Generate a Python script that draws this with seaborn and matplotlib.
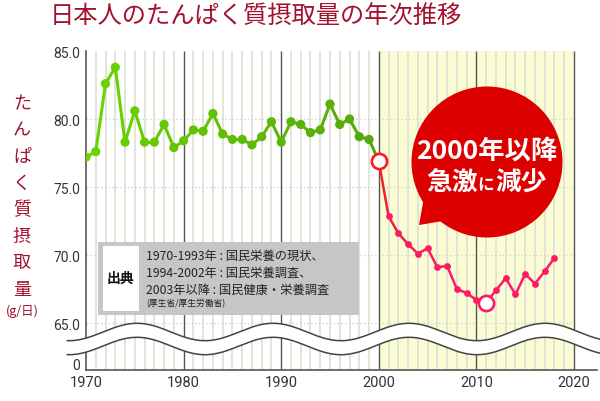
import numpy as np
import pandas as pd
import seaborn as sns
import matplotlib
import matplotlib.pyplot as plt
from matplotlib.collections import LineCollection
from matplotlib.colors import LinearSegmentedColormap
from matplotlib.patches import Ellipse, Polygon, Rectangle
from matplotlib.lines import Line2D

# たんぱく質摂取量 (g/日), 図から読み取り
years = list(range(1970, 2019))
protein = [77.2, 77.6, 82.6, 83.8, 78.3, 80.6, 78.3, 78.3, 79.6, 77.9,
           78.4, 79.2, 79.1, 80.4, 78.9, 78.5, 78.5, 78.1, 78.7, 79.8,
           78.3, 79.8, 79.6, 79.0, 79.2, 81.1, 79.6, 80.0, 78.7, 78.5,
           76.9, 72.85, 71.6, 70.8, 70.1, 70.5, 69.1, 69.2, 67.5, 67.2,
           66.7, 66.5, 67.4, 68.3, 67.1, 68.6, 67.9, 68.8, 69.8]
split_year = 2000
low_year = 2011
xtick_years = [1970, 1980, 1990, 2000, 2010, 2020]
ytick_vals = [62, 65, 70, 75, 80, 85]
ytick_labels = ['0', '65.0', '70.0', '75.0', '80.0', '85.0']

title = '日本人のたんぱく質摂取量の年次推移'
ylabel_chars = list('たんぱく質摂取量')
source_lines = ['1970-1993年 : 国民栄養の現状、',
                '1994-2002年 : 国民栄養調査、',
                '2003年以降 : 国民健康・栄養調査']

df = pd.DataFrame({'year': years, 'protein': protein})
df_g = df[df.year <= split_year]
df_r = df[df.year >= split_year]

sns.set_theme(style='white')
plt.rcParams['font.family'] = ['Noto Sans CJK JP', 'DejaVu Sans']
num_font = ['Liberation Sans Narrow', 'Roboto', 'DejaVu Sans']

W, H = 600, 402
fig = plt.figure(figsize=(W / 100, H / 100), dpi=100)
ax = fig.add_axes([86 / W, (H - 370.7) / H, 511 / W, (370.7 - 52) / H])
x0, x1 = 1970, 1970 + 511 / 9.76
y0, y1 = 61.57, 85


def fx(px):
    return px / W


def fy(py):
    return 1 - py / H


# 背景・グリッド
ax.axvspan(2000, 2020, color='#fafcd4', zorder=0.5, lw=0)
for yr in range(1970, 2021):
    if yr % 10:
        ax.vlines(yr, y0, y1, color='#e0e0d6', lw=1.3, zorder=1)
for yv in [65, 70, 75, 80]:
    ax.hlines(yv, 1970, 2020, color='#cfcfcf', lw=0.9, ls=(0, (1, 2)), zorder=1.2)
for yr in xtick_years[1:]:
    ax.vlines(yr, y0, y1, color='#555555', lw=1.0, zorder=1.5)

# 線 (グラデーション)
cm_g = LinearSegmentedColormap.from_list('g', ['#6ad400', '#56a80a'])
cm_r = LinearSegmentedColormap.from_list('r', ['#f2202a', '#ff1a66', '#ff1a66', '#ff1a6a'])


def grad_line(d, cmap, lw):
    pts = d[['year', 'protein']].to_numpy()
    segs = np.stack([pts[:-1], pts[1:]], axis=1)
    t = np.linspace(0, 1, len(segs))
    lc = LineCollection(segs, colors=cmap(t), lw=lw, zorder=3, capstyle='round')
    ax.add_collection(lc)


grad_line(df_g, cm_g, 2.2)
grad_line(df_r, cm_r, 1.8)

sns.scatterplot(data=df_g[df_g.year < split_year], x='year', y='protein', hue='year',
                palette=cm_g, s=44, linewidth=0, legend=False, ax=ax, zorder=4)
df_r2 = df_r[(df_r.year > split_year) & (df_r.year != low_year)]
sns.scatterplot(data=df_r2, x='year', y='protein', color='#ff1a66',
                s=24, linewidth=0, legend=False, ax=ax, zorder=4)
sns.scatterplot(data=df[df.year == split_year], x='year', y='protein', s=120,
                facecolor='white', edgecolor='#ff1a1a', linewidth=1.9,
                legend=False, ax=ax, zorder=5)
sns.scatterplot(data=df[df.year == low_year], x='year', y='protein', s=120,
                facecolor='white', edgecolor='#ff1a66', linewidth=1.9,
                legend=False, ax=ax, zorder=5)

ax.set_xlim(x0, x1)
ax.set_ylim(y0, y1)
ax.set_xlabel('')
ax.set_ylabel('')
ax.set_xticks(xtick_years)
ax.set_xticklabels([str(v) for v in xtick_years], family=num_font, fontsize=10.5, color='#333333')
ax.set_yticks(ytick_vals)
ax.set_yticklabels(ytick_labels, family=num_font, fontsize=10, color='#333333')
ax.tick_params(axis='x', length=0, pad=4)
ax.tick_params(axis='y', length=4, direction='inout', width=1, color='#555555', pad=2)
for s in ['top', 'right']:
    ax.spines[s].set_visible(False)
for s in ['left', 'bottom']:
    ax.spines[s].set_color('#555555')
    ax.spines[s].set_linewidth(1.2)

# 波線 (軸の省略)
xs = np.linspace(67, 600, 500)
up = 333 - 8.7 * np.cos(2 * np.pi * (xs - 137) / 136)
lo = up + 14
poly = np.column_stack([np.r_[xs, xs[::-1]], np.r_[up, lo[::-1]]])
fig.add_artist(Polygon(np.column_stack([fx(poly[:, 0]), fy(poly[:, 1])]),
                       closed=True, facecolor='white', edgecolor='none',
                       transform=fig.transFigure, zorder=6))
for yy in (up, lo):
    fig.add_artist(Line2D(fx(xs), fy(yy), color='#444444', lw=1.1,
                          transform=fig.transFigure, zorder=7))

# 吹き出し
bub = '#dc0000'
fig.add_artist(Polygon([(fx(424), fy(198)), (fx(419), fy(226)), (fx(455), fy(220))],
                       closed=True, facecolor=bub, edgecolor='none',
                       transform=fig.transFigure, zorder=8))
fig.add_artist(Ellipse((fx(487), fy(163)), 2 * 75.5 / W, 2 * 75.5 / H,
                       facecolor=bub, edgecolor='none', transform=fig.transFigure, zorder=8))
fig.text(fx(487), fy(151), '2000年以降', color='white', fontsize=19, fontweight='bold',
         ha='center', va='center', zorder=9)
fig.text(fx(452), fy(183), '急激', color='white', fontsize=18.5, fontweight='bold',
         ha='center', va='center', zorder=9)
fig.text(fx(485.5), fy(185), 'に', color='white', fontsize=12, fontweight='bold',
         ha='center', va='center', zorder=9)
fig.text(fx(521), fy(183), '減少', color='white', fontsize=18.5, fontweight='bold',
         ha='center', va='center', zorder=9)

# 出典
fig.add_artist(Rectangle((fx(98), fy(316)), 261 / W, 73 / H, facecolor='#c6c6c6',
                         edgecolor='none', transform=fig.transFigure, zorder=8))
fig.add_artist(Rectangle((fx(103), fy(312)), 36 / W, 65 / H, facecolor='white',
                         edgecolor='none', transform=fig.transFigure, zorder=8))
fig.text(fx(121), fy(279), '出典', fontsize=10, fontweight='bold', color='#111111',
         ha='center', va='center', zorder=9)
for i, line in enumerate(source_lines):
    fig.text(fx(146), fy(256 + 17 * i), line, fontsize=8.8, color='#222222',
             ha='left', va='center', zorder=9)
fig.text(fx(146), fy(303.5), '(厚生省/厚生労働省)', fontsize=6.3, color='#222222',
         ha='left', va='center', zorder=9)

# タイトル・縦軸ラベル
red = '#a3112e'
fig.text(fx(256), fy(17), title, fontsize=17.5, color=red, ha='center', va='center')
for i, ch in enumerate(ylabel_chars):
    fig.text(fx(22), fy(104 + 26.5 * i), ch, fontsize=13, color=red,
             ha='center', va='center')
fig.text(fx(22), fy(311), '(g/日)', fontsize=9, color=red, ha='center', va='center')

fig.savefig('out.png', dpi=100)
